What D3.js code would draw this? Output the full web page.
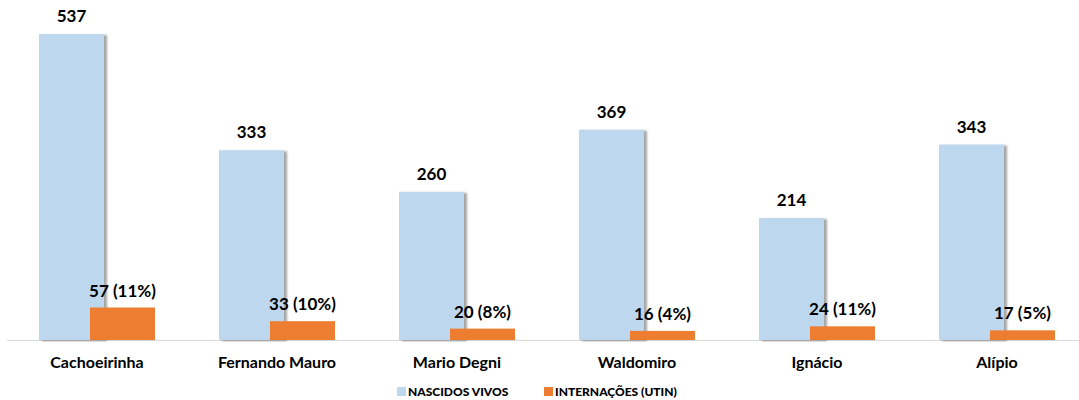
<!DOCTYPE html>
<html>
<head>
<meta charset="utf-8">
<script src="https://cdn.jsdelivr.net/npm/d3@7"></script>
<style>
  body { margin: 0; background: #fff; }
  text { font-family: Lato, "Open Sans", sans-serif; font-weight: bold; fill: #000; }
</style>
</head>
<body>
<div class="canva"></div>
<script>
// data
const categories = ['Cachoeirinha', 'Fernando Mauro', 'Mario Degni', 'Waldomiro', 'Ignácio', 'Alípio'];
const nascidos = [537, 333, 260, 369, 214, 343];
const internacoes = [57, 33, 20, 16, 24, 17];
const internLabels = ['57 (11%)', '33 (10%)', '20 (8%)', '16 (4%)', '24 (11%)', '17 (5%)'];
const seriesNames = ['NASCIDOS VIVOS', 'INTERNAÇÕES (UTIN)'];
const colors = ['#BDD7EE', '#ED7D31'];

const width = 1079, height = 400;
const baseY = 340;

const svg = d3.select('.canva').append('svg')
    .attr('width', width)
    .attr('height', height);

const defs = svg.append('defs');
const shadow = defs.append('filter').attr('id', 'shadow')
    .attr('x', '-10%').attr('y', '-10%').attr('width', '130%').attr('height', '120%');
shadow.append('feDropShadow')
    .attr('dx', 3).attr('dy', 1).attr('stdDeviation', 1.2)
    .attr('flood-color', '#000').attr('flood-opacity', 0.35);

// scales
const x = d3.scaleBand()
    .domain(categories)
    .range([7, 1087])
    .padding(0);

const y = d3.scaleLinear()
    .domain([0, 537])
    .range([baseY, 34]);

const barW = 65;
const offBlue = -58, offOrange = -7;
const cx = d => x(d) + x.bandwidth() / 2;

// axis line
svg.append('line')
    .attr('x1', 7).attr('x2', width)
    .attr('y1', baseY + 0.5).attr('y2', baseY + 0.5)
    .attr('stroke', '#d9d9d9');

// blue bars
svg.selectAll('.blue')
    .data(nascidos)
    .enter().append('rect')
    .attr('class', 'blue')
    .attr('x', (d, i) => cx(categories[i]) + offBlue)
    .attr('y', d => y(d))
    .attr('width', barW)
    .attr('height', d => baseY - y(d))
    .attr('fill', colors[0])
    .attr('filter', 'url(#shadow)');

// orange bars
svg.selectAll('.orange')
    .data(internacoes)
    .enter().append('rect')
    .attr('class', 'orange')
    .attr('x', (d, i) => cx(categories[i]) + offOrange)
    .attr('y', d => y(d))
    .attr('width', barW)
    .attr('height', d => baseY - y(d))
    .attr('fill', colors[1]);

// value labels
svg.selectAll('.lblBlue')
    .data(nascidos)
    .enter().append('text')
    .attr('x', (d, i) => cx(categories[i]) + offBlue + barW / 2)
    .attr('y', d => y(d) - 12)
    .attr('text-anchor', 'middle')
    .style('font-size', '17px')
    .text(d => d);

svg.selectAll('.lblOrange')
    .data(internacoes)
    .enter().append('text')
    .attr('x', (d, i) => cx(categories[i]) + offOrange + barW / 2)
    .attr('y', d => y(d) - 11)
    .attr('text-anchor', 'middle')
    .style('font-size', '17px')
    .text((d, i) => internLabels[i]);

// category labels
svg.selectAll('.cat')
    .data(categories)
    .enter().append('text')
    .attr('x', d => cx(d))
    .attr('y', 368)
    .attr('text-anchor', 'middle')
    .style('font-size', '16px')
    .text(d => d);

// legend
const legendX = [397, 544];
seriesNames.forEach((name, i) => {
  svg.append('rect')
      .attr('x', legendX[i]).attr('y', 387)
      .attr('width', 9).attr('height', 9)
      .attr('fill', colors[i]);
  svg.append('text')
      .attr('x', legendX[i] + 11).attr('y', 396)
      .style('font-size', '12px')
      .style('font-weight', 900)
      .text(name);
});
</script>
</body>
</html>
